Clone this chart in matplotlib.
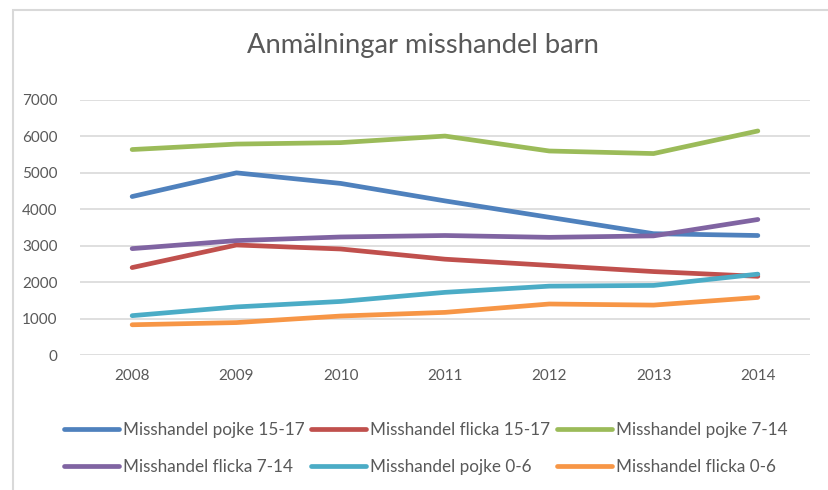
import matplotlib.pyplot as plt
from matplotlib.patches import Rectangle

plt.rcParams['font.family'] = ['Lato', 'DejaVu Sans']

years = ['2008', '2009', '2010', '2011', '2012', '2013', '2014']

pojke_15_17 = [4350, 5000, 4710, 4230, 3780, 3330, 3280]
flicka_15_17 = [2400, 3020, 2910, 2630, 2460, 2290, 2160]
pojke_7_14 = [5640, 5790, 5830, 6010, 5600, 5530, 6150]
flicka_7_14 = [2920, 3140, 3240, 3280, 3230, 3270, 3720]
pojke_0_6 = [1080, 1320, 1470, 1720, 1890, 1910, 2220]
flicka_0_6 = [830, 890, 1070, 1170, 1400, 1370, 1580]

series = [
    ("Misshandel pojke 15-17", pojke_15_17, "#4F81BD"),
    ("Misshandel flicka 15-17", flicka_15_17, "#C0504D"),
    ("Misshandel pojke 7-14", pojke_7_14, "#9BBB59"),
    ("Misshandel flicka 7-14", flicka_7_14, "#8064A2"),
    ("Misshandel pojke 0-6", pojke_0_6, "#4BACC6"),
    ("Misshandel flicka 0-6", flicka_0_6, "#F79646"),
]

text_col = "#595959"
grid_col = "#D9D9D9"

fig = plt.figure(figsize=(8.29, 4.9), dpi=100)
# outer chart border
fig.patches.append(Rectangle((13 / 829, -0.01), 1.0, 1 - 10 / 490 + 0.01,
                             transform=fig.transFigure, fill=False,
                             edgecolor=grid_col, linewidth=1.5))

ax = fig.add_axes([80 / 829, 1 - 355 / 490, 730 / 829, 255 / 490])

x = list(range(len(years)))
handles = []
for name, vals, col in series:
    h, = ax.plot(x, vals, color=col, linewidth=3.4, solid_capstyle='round',
                 solid_joinstyle='round', label=name)
    handles.append(h)

ax.set_xlim(-0.5, len(years) - 0.5)
ax.set_ylim(0, 7000)
ax.set_yticks(range(0, 7001, 1000))
ax.set_xticks(x)
ax.set_xticklabels(years)
ax.yaxis.grid(True, color=grid_col, linewidth=1.2)
ax.set_axisbelow(True)
for s in ax.spines.values():
    s.set_visible(False)
ax.tick_params(axis='both', length=0, labelcolor=text_col, labelsize=11)
ax.tick_params(axis='y', pad=16)
ax.tick_params(axis='x', pad=10)

fig.text(423 / 829, 1 - 45 / 490, "Anmälningar misshandel barn",
         ha='center', va='center', fontsize=19.7, color=text_col)

# legend in row-major order
order = [0, 3, 1, 4, 2, 5]
leg = fig.legend([handles[i] for i in order], [series[i][0] for i in order],
                 ncol=3, loc='upper left', bbox_to_anchor=(57 / 829, 1 - 415 / 490),
                 frameon=False, fontsize=12.3, handlelength=3.2, handletextpad=0.25,
                 columnspacing=0.4, labelspacing=1.25, borderaxespad=0)
for t in leg.get_texts():
    t.set_color(text_col)

fig.savefig("out.png", dpi=100)
